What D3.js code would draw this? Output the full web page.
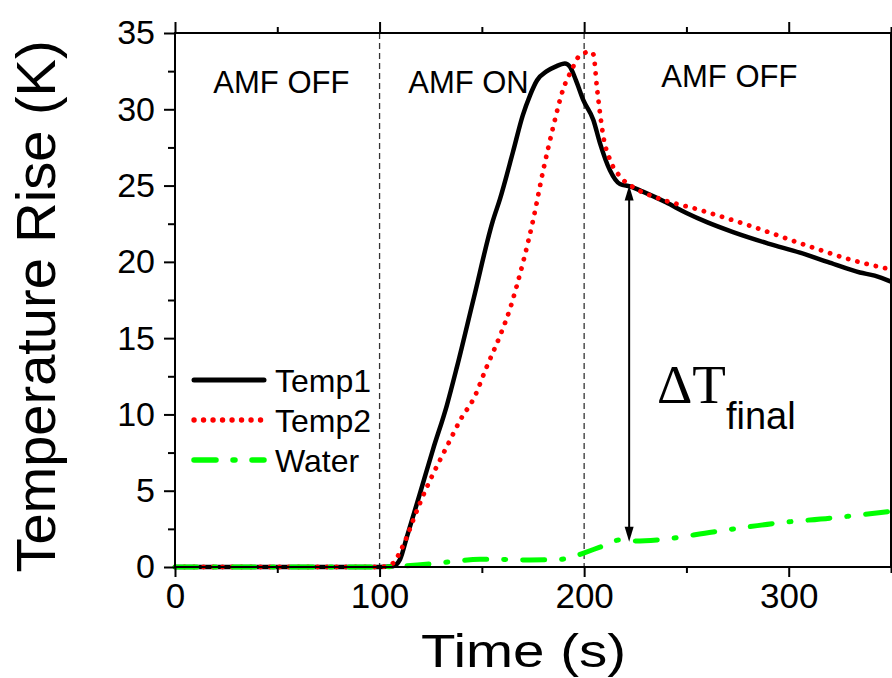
<!DOCTYPE html>
<html>
<head>
<meta charset="utf-8">
<script src="https://cdn.jsdelivr.net/npm/d3@7"></script>
<style>
  html, body { margin: 0; padding: 0; background: #fff; }
  svg { display: block; }
  text { font-family: Arial, "Liberation Sans", sans-serif; fill: #000; }
</style>
</head>
<body>
<svg id="chart" width="892" height="678"></svg>
<script>
// ---- data ----
const temp1Time = [0, 20, 40, 60, 80, 100, 106.5, 110, 113.4, 119.7, 126.1, 132.9, 137.8, 146, 155.4, 158.8,
  165.2, 170, 173.5, 177, 181.8, 186, 190.6, 193, 196, 199.6,
  204.5, 207.7, 212.6, 217.5, 222.4, 228.7, 240, 250, 260, 272.8,
  290, 305.5, 320, 334.8, 342, 350];
const temp1Value = [0, 0, 0, 0, 0, 0, 0.05, 0.5, 2.0, 4.8, 7.7, 10.6, 13.1, 17.6, 22.7, 24.1,
  27.2, 29.6, 30.9, 31.9, 32.5, 32.8, 33.0, 32.8, 31.9, 30.6,
  29.3, 27.8, 26.0, 25.1, 24.95, 24.6, 23.9, 23.2, 22.6, 21.95,
  21.2, 20.6, 19.95, 19.3, 19.1, 18.7];

const temp2Time = [0, 20, 40, 60, 80, 100, 106.7, 110, 113.4, 116.5, 123, 129.5, 134.4, 139.3,
  146.6, 152, 159, 163.7, 167, 170.2, 175, 180, 184.8, 189.7,
  194, 197, 200.4, 202.5, 204.5, 206.2, 207.7, 209.4, 212.6, 217.5,
  223.9, 235.6, 256.6, 282.5, 310.4, 331.4, 350];
const temp2Value = [0, 0, 0, 0, 0, 0, 0.25, 1.0, 2.0, 3.1, 5.2, 7.0, 8.3, 9.6,
  11.2, 13.0, 15.2, 16.9, 18.4, 20.0, 22.7, 26.0, 28.8, 31.3,
  32.6, 33.4, 33.7, 33.8, 33.6, 31.5, 29.8, 28.2, 26.7, 25.6,
  24.9, 24.2, 23.4, 22.3, 21.0, 20.1, 19.5];

const waterTime = [0, 20, 40, 60, 80, 100, 110, 124.6, 135, 149, 160, 173.5, 188, 193, 199.4,
  207.7, 217.5, 224, 235.6, 263, 295.7, 320, 350];
const waterValue = [0, 0, 0, 0, 0, 0, 0.05, 0.2, 0.35, 0.5, 0.5, 0.46, 0.5, 0.6, 0.9,
  1.3, 1.77, 1.7, 1.77, 2.3, 2.9, 3.2, 3.65];

const seriesNames = ["Temp1", "Temp2", "Water"];
const xMajorTicks = [0, 100, 200, 300];
const xMinorTicks = [50, 150, 250, 350];
const yMajorTicks = [0, 5, 10, 15, 20, 25, 30, 35];
const yMinorTicks = [2.5, 7.5, 12.5, 17.5, 22.5, 27.5, 32.5];
const phaseBounds = [100, 200];
const phaseLabels = [
  { text: "AMF OFF", t: 52, v: 31.1, anchor: "middle" },
  { text: "AMF ON", t: 114, v: 31.1, anchor: "start" },
  { text: "AMF OFF", t: 271, v: 31.45, anchor: "middle" }
];
const deltaArrow = { t: 222, from: 25.0, to: 1.65 };
const deltaLabel = { t: 235.6, v: 10.75 };

// ---- layout ----
const svg = d3.select("#chart");
const plot = { left: 175, right: 891, top: 33, bottom: 567 };

const x = d3.scaleLinear().domain([0, 350]).range([plot.left, plot.right]);
const y = d3.scaleLinear().domain([0, 35]).range([plot.bottom, plot.top]);

const styles = {
  Temp1: { color: "#000000", width: 4.5, dash: null, cap: "round" },
  Temp2: { color: "#ff0000", width: 4.8, dash: "0.1,9.4", cap: "round" },
  Water: { color: "#00ff00", width: 5, dash: "22,17,2,17", cap: "round" }
};

// phase separators
svg.append("g").selectAll("line").data(phaseBounds).join("line")
  .attr("x1", d => x(d)).attr("x2", d => x(d))
  .attr("y1", y(35)).attr("y2", y(0))
  .attr("stroke", "#333").attr("stroke-width", 1.3)
  .attr("stroke-dasharray", "6,4");

// series
const series = [
  { name: "Temp1", t: temp1Time, v: temp1Value },
  { name: "Temp2", t: temp2Time, v: temp2Value },
  { name: "Water", t: waterTime, v: waterValue }
];
const line = d3.line().x(d => x(d[0])).y(d => y(d[1])).curve(d3.curveMonotoneX);
series.forEach(s => {
  const st = styles[s.name];
  svg.append("path")
    .datum(s.t.map((t, i) => [t, s.v[i]]))
    .attr("d", line)
    .attr("fill", "none")
    .attr("stroke", st.color)
    .attr("stroke-width", st.width)
    .attr("stroke-linecap", st.cap)
    .attr("stroke-linejoin", "round")
    .attr("stroke-dasharray", st.dash);
});

// arrow (double headed)
const ax = x(deltaArrow.t), ay1 = y(deltaArrow.from), ay2 = y(deltaArrow.to);
const headL = 15, headW = 4.5;
svg.append("line")
  .attr("x1", ax).attr("x2", ax)
  .attr("y1", ay1 + headL - 2).attr("y2", ay2 - headL + 2)
  .attr("stroke", "#000").attr("stroke-width", 2);
svg.append("path")
  .attr("d", `M${ax},${ay1} L${ax - headW},${ay1 + headL} L${ax + headW},${ay1 + headL} Z`)
  .attr("fill", "#000");
svg.append("path")
  .attr("d", `M${ax},${ay2} L${ax - headW},${ay2 - headL} L${ax + headW},${ay2 - headL} Z`)
  .attr("fill", "#000");

// ΔT_final label
const dl = svg.append("text")
  .attr("x", x(deltaLabel.t)).attr("y", y(deltaLabel.v));
dl.append("tspan")
  .style("font-family", "'Liberation Serif', 'Times New Roman', serif")
  .style("font-size", "55px").text("ΔT");
dl.append("tspan")
  .attr("dy", 26)
  .style("font-size", "38px").text("final");

// phase labels
svg.append("g").selectAll("text").data(phaseLabels).join("text")
  .attr("x", d => x(d.t)).attr("y", d => y(d.v))
  .attr("text-anchor", d => d.anchor)
  .style("font-size", "31px")
  .text(d => d.text);

// axes
function styleAxis(g) {
  g.selectAll(".tick line").attr("stroke", "#000").attr("stroke-width", 2);
  g.select(".domain").remove();
}
svg.append("g").attr("transform", `translate(${plot.left},0)`)
  .call(d3.axisLeft(y).tickValues(yMajorTicks).tickSize(11).tickPadding(9).tickFormat(d3.format("d")))
  .call(styleAxis)
  .selectAll("text").style("font-size", "34px").style("font-family", "Arial, 'Liberation Sans', sans-serif");
svg.append("g").attr("transform", `translate(${plot.left},0)`)
  .call(d3.axisLeft(y).tickValues(yMinorTicks).tickSize(7).tickFormat(""))
  .call(styleAxis);

svg.append("g").attr("transform", `translate(0,${plot.bottom})`)
  .call(d3.axisBottom(x).tickValues(xMajorTicks).tickSize(10).tickPadding(6).tickFormat(d3.format("d")))
  .call(styleAxis)
  .selectAll("text").style("font-size", "35px").style("font-family", "Arial, 'Liberation Sans', sans-serif");
svg.append("g").attr("transform", `translate(0,${plot.bottom})`)
  .call(d3.axisBottom(x).tickValues(xMinorTicks).tickSize(6).tickFormat(""))
  .call(styleAxis);

svg.append("g").attr("transform", `translate(0,${plot.top})`)
  .call(d3.axisTop(x).tickValues(xMajorTicks).tickSize(11).tickFormat(""))
  .call(styleAxis);
svg.append("g").attr("transform", `translate(0,${plot.top})`)
  .call(d3.axisTop(x).tickValues(xMinorTicks).tickSize(6).tickFormat(""))
  .call(styleAxis);

svg.append("g").attr("transform", `translate(${plot.right},0)`)
  .call(d3.axisRight(y).tickValues(yMajorTicks).tickSize(10).tickFormat(""))
  .call(styleAxis);

// frame
svg.append("rect")
  .attr("x", plot.left).attr("y", plot.top)
  .attr("width", plot.right - plot.left).attr("height", plot.bottom - plot.top)
  .attr("fill", "none").attr("stroke", "#000").attr("stroke-width", 2);

// axis titles
svg.append("text")
  .attr("transform", `translate(55,${(33 + 580) / 2}) rotate(-90)`)
  .attr("text-anchor", "middle")
  .style("font-size", "56px")
  .text("Temperature Rise (K)");
svg.append("text")
  .attr("x", 421).attr("y", 667)
  .attr("textLength", 205).attr("lengthAdjust", "spacingAndGlyphs")
  .style("font-size", "47px")
  .text("Time (s)");

// legend
const legendY = [380, 420, 460];
const lg = svg.append("g");
seriesNames.forEach((name, i) => {
  const st = styles[name];
  lg.append("line")
    .attr("x1", 194).attr("x2", 264)
    .attr("y1", legendY[i]).attr("y2", legendY[i])
    .attr("stroke", st.color).attr("stroke-width", st.width + 0.5)
    .attr("stroke-linecap", st.cap)
    .attr("stroke-dasharray", st.dash);
  lg.append("text")
    .attr("x", 275).attr("y", legendY[i] + 12)
    .style("font-size", "32px")
    .text(name);
});
</script>
</body>
</html>
